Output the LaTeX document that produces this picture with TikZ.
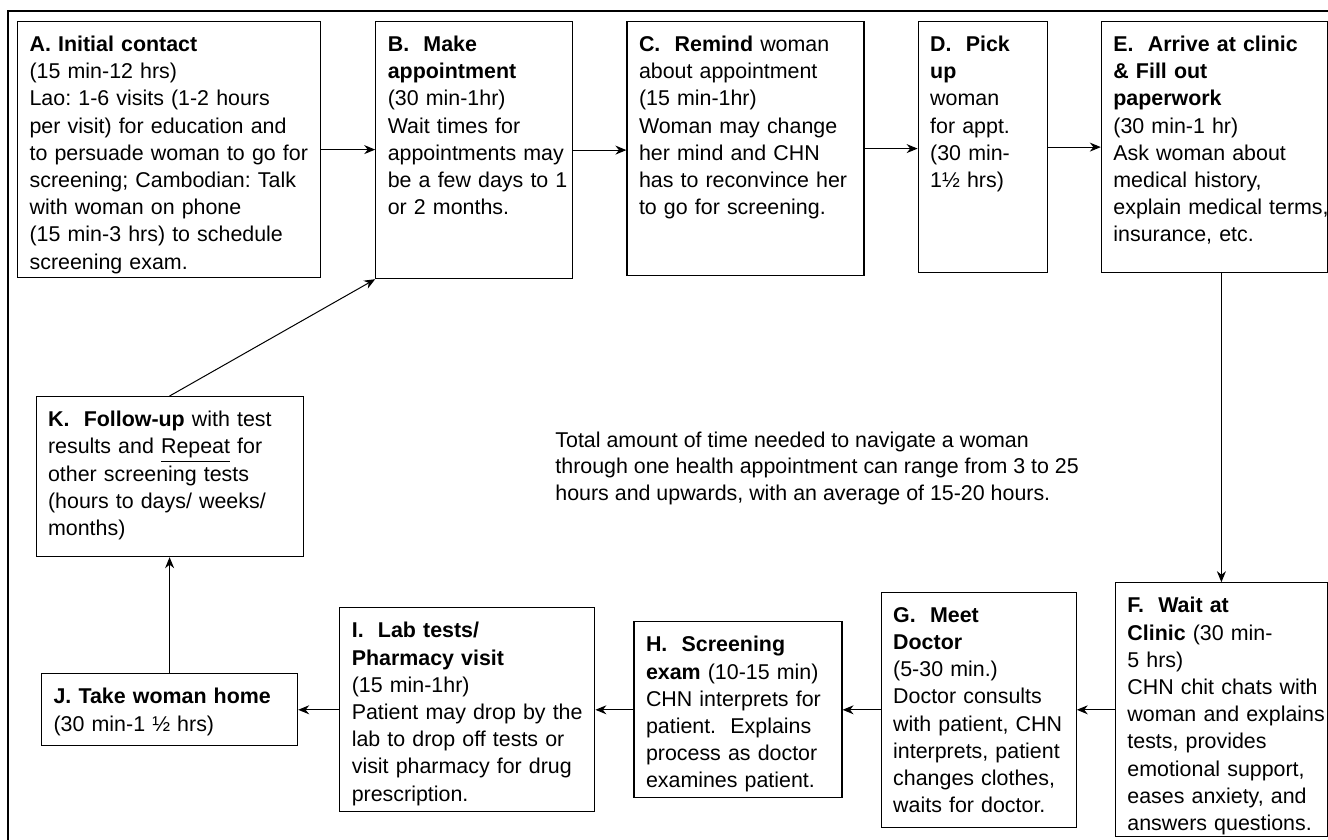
\documentclass[tikz,border=0pt]{standalone}
\usepackage{fontspec}
\setmainfont{Liberation Sans}
\frenchspacing
\usepackage{tikz}
\usetikzlibrary{arrows.meta, positioning}
\tikzset{
    stepbox/.style={rectangle, draw, line width=0.6pt, align=left, inner xsep=6pt, inner ysep=1pt, text height=14pt, font=\fontsize{10.7}{13.6}\selectfont},
    arrow/.style={-{Stealth[length=5.5pt, width=4.5pt]}, line width=0.5pt}
}
\begin{document}
\begin{tikzpicture}[x=0.5pt, y=-0.5pt, node distance=26.5pt]
            \useasboundingbox (0,0) rectangle (1328,840);
            \draw [line width=0.6pt] (1328,11) -| (8,840);

            % top row, left to right
			\node (A) [stepbox, text width=139.5pt, text depth=112pt, anchor=north west] at (17,21) {\textbf{A. Initial contact}\\ (15 min-12 hrs)\\ Lao: 1-6 visits (1-2 hours\\ per visit) for education and\\ \mbox{to persuade woman to go for}\\ \mbox{screening; Cambodian: Talk}\\ with woman on phone\\ (15 min-3 hrs) to schedule\\ screening exam.};
			\node (B) [stepbox, right=27pt of A.north east, anchor=north west, text width=86.5pt, text depth=112.5pt] {\textbf{B.\ \ Make}\\ \textbf{appointment}\\ (30 min-1hr)\\ Wait times for\\ \mbox{appointments may}\\ \mbox{be a few days to 1}\\ or 2 months.};
			\node (C) [stepbox, right=of B.north east, anchor=north west, text width=106.5pt, text depth=111pt] {\textbf{C.\ \ Remind} woman\\ about appointment\\ (15 min-1hr)\\ Woman may change\\ her mind and CHN\\ \mbox{has to reconvince her}\\ to go for screening.};
			\node (D) [stepbox, right=of C.north east, anchor=north west, text width=52.5pt, text depth=109.5pt] {\textbf{D.\ \ Pick}\\ \textbf{up}\\ woman\\ for appt.\\ (30 min-\\ 1½ hrs)};
			\node (E) [stepbox, right=of D.north east, anchor=north west, text width=101pt, text depth=109.5pt] {\textbf{E.\ \ Arrive at clinic}\\ \textbf{\& Fill out}\\ \textbf{paperwork}\\ (30 min-1 hr)\\ Ask woman about\\ medical history,\\ \mbox{explain medical terms,}\\ insurance, etc.};

            % bottom row, right to left
			\node (F) [stepbox, below=154.5pt of E.south east, anchor=north east, text width=94pt, text depth=111pt] {\textbf{F.\ \ Wait at}\\ \textbf{Clinic} (30 min-\\ 5 hrs)\\ \mbox{CHN chit chats with}\\ \mbox{woman and explains}\\ tests, provides\\ \mbox{emotional support,}\\ \mbox{eases anxiety, and}\\ \mbox{answers questions.}};
			\node (G) [stepbox, left=19pt of F, text width=85.5pt, text depth=101.5pt] {\textbf{G.\ \ Meet}\\ \textbf{Doctor}\\ (5-30 min.)\\ Doctor consults\\ \mbox{with patient, CHN}\\ \mbox{interprets, patient}\\ changes clothes,\\ waits for doctor.};
			\node (H) [stepbox, left=19pt of G, text width=92pt, text depth=72pt] {\textbf{H.\ \ Screening}\\ \mbox{\textbf{exam} (10-15 min)}\\ \mbox{CHN interprets for}\\ patient.\ \ Explains\\ \mbox{process as doctor}\\ \mbox{examines patient.}};
			\node (I) [stepbox, left=19pt of H, text width=115.5pt, text depth=86pt] {\textbf{I.\ \ Lab tests/}\\ \textbf{Pharmacy visit}\\ (15 min-1hr)\\ \mbox{Patient may drop by the}\\ lab to drop off tests or\\ visit pharmacy for drug\\ prescription.};
			\node (J) [stepbox, left=20.5pt of I, text width=116pt, text depth=20pt] {\textbf{J. Take woman home}\\ (30 min-1 ½ hrs)};
			\node (K) [stepbox, above=58pt of J, text width=121.5pt, text depth=64pt] {\textbf{K.\ \ Follow-up} with test\\ results and \underline{Repeat} for\\ other screening tests\\ (hours to days/ weeks/\\ months)};

			\node (total) [anchor=west, align=left, inner sep=0pt, font=\fontsize{10.7}{13.25}\selectfont] at (555,468) {Total amount of time needed to navigate a woman\\ through one health appointment can range from 3 to 25\\ hours and upwards, with an average of 15-20 hours.};

			\draw [arrow] (A.east) -- (A.east -| B.west);
			\draw [arrow] (B.east) -- (B.east -| C.west);
			\draw [arrow] (C.east) -- (C.east -| D.west);
			\draw [arrow] (D.east) -- (D.east -| E.west);
			\draw [arrow] (E.south -| F.north) -- (F.north);
			\draw [arrow] (F) -- (G);
			\draw [arrow] (G) -- (H);
			\draw [arrow] (H) -- (I);
			\draw [arrow] (I) -- (J);
			\draw [arrow] (J) -- (K);
			\draw [arrow] (K.north) -- (B.south west);
		\end{tikzpicture}
\end{document}
